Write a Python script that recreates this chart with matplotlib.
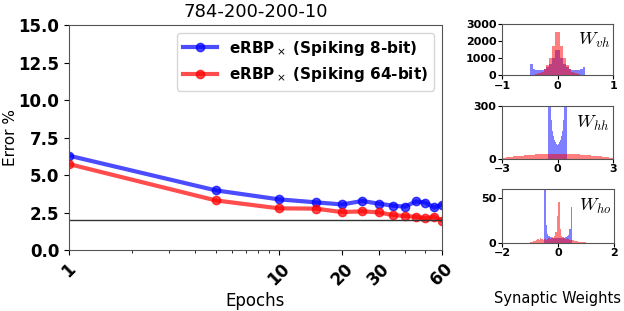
import numpy as np
import matplotlib
matplotlib.use('Agg')
import matplotlib.pyplot as plt
from matplotlib.ticker import ScalarFormatter, NullFormatter

# error curves
epochs = [1, 5, 10, 15, 20, 25, 30, 35, 40, 45, 50, 55, 60]
err_8bit = [6.29, 3.98, 3.38, 3.18, 3.04, 3.27, 3.09, 2.96, 2.89, 3.24, 3.16, 2.84, 3.02]
err_64bit = [5.73, 3.31, 2.78, 2.76, 2.53, 2.58, 2.51, 2.33, 2.27, 2.22, 2.11, 2.22, 1.96]
baseline = 2.0
xticks = [1, 10, 20, 30, 60]

# weight histograms (bin centers / heights)
vh_x = [-0.475, -0.425, -0.375, -0.325, -0.275, -0.225, -0.175, -0.125, -0.075, -0.025,
        0.025, 0.075, 0.125, 0.175, 0.225, 0.275, 0.325, 0.375, 0.425, 0.475]
vh_blue = [650, 330, 300, 300, 320, 360, 450, 650, 1000, 1500,
           1500, 1000, 650, 450, 360, 320, 300, 300, 330, 450]
vh_red = [10, 20, 50, 100, 200, 350, 600, 1000, 1700, 2550,
          2550, 1700, 1000, 600, 350, 200, 100, 50, 20, 10]

hh_blue = [1000, 500, 320, 220, 160, 130, 110, 95, 85, 80,
           80, 85, 95, 110, 130, 160, 220, 320, 500, 1000]
hh_red_x = [-2.9, -2.7, -2.5, -2.3, -2.1, -1.9, -1.7, -1.5, -1.3, -1.1, -0.9, -0.7, -0.5, -0.3, -0.1,
            0.1, 0.3, 0.5, 0.7, 0.9, 1.1, 1.3, 1.5, 1.7, 1.9, 2.1, 2.3, 2.5, 2.7, 2.9]
hh_red = [6, 9, 12, 15, 17, 19, 21, 23, 25, 26, 27, 28, 29, 30, 30,
          30, 30, 29, 28, 27, 26, 25, 23, 21, 19, 17, 15, 12, 9, 6]

ho_blue = [60, 20, 10, 7, 6, 5, 5, 5, 5, 5,
           5, 5, 5, 5, 5, 6, 7, 9, 15, 40]
ho_red_x = [-0.975, -0.925, -0.875, -0.825, -0.775, -0.725, -0.675, -0.625, -0.575, -0.525,
            -0.475, -0.425, -0.375, -0.325, -0.275, -0.225, -0.175, -0.125, -0.075, -0.025,
            0.025, 0.075, 0.125, 0.175, 0.225, 0.275, 0.325, 0.375, 0.425, 0.475,
            0.525, 0.575, 0.625, 0.675, 0.725, 0.775, 0.825, 0.875, 0.925, 0.975]
ho_red = [1, 1, 2, 2, 3, 4, 3, 5, 4, 3,
          4, 3, 4, 5, 4, 6, 5, 8, 12, 30,
          45, 15, 8, 6, 5, 4, 5, 4, 3, 3,
          3, 2, 2, 2, 1, 1, 1, 1, 1, 1]

fig = plt.figure(figsize=(6.24, 3.11), dpi=100)

ax = fig.add_axes([0.1106, 0.196, 0.5977, 0.7236])
ax.plot(epochs, err_8bit, '-o', color='blue', alpha=0.7, lw=3, ms=6,
        label=r'eRBP$_\times$ (Spiking 8-bit)')
ax.plot(epochs, err_64bit, '-o', color='red', alpha=0.7, lw=3, ms=6,
        label=r'eRBP$_\times$ (Spiking 64-bit)')
ax.axhline(baseline, color='#333333', lw=1)
ax.set_xscale('log')
ax.set_xlim(1, 60)
ax.set_ylim(0, 15)
ax.set_xticks(xticks)
ax.xaxis.set_major_formatter(ScalarFormatter())
ax.xaxis.set_minor_formatter(NullFormatter())
ax.set_yticks([0, 2.5, 5, 7.5, 10, 12.5, 15])
ax.set_yticklabels(['0.0', '2.5', '5.0', '7.5', '10.0', '12.5', '15.0'])
for lab in ax.get_xticklabels():
    lab.set_rotation(45)
    lab.set_fontweight('bold')
    lab.set_fontsize(12)
for lab in ax.get_yticklabels():
    lab.set_fontweight('bold')
    lab.set_fontsize(12)
for s in ax.spines.values():
    s.set_color('#555555')
ax.set_title('784-200-200-10', fontsize=13)
ax.set_xlabel('Epochs', fontsize=12, labelpad=2)
ax.set_ylabel('Error %', fontsize=11, va='center')
ax.yaxis.set_label_coords(-0.158, 0.5)
ax.legend(loc='upper right', prop={'weight': 'bold', 'size': 11}, handlelength=2.2)


def hist_panel(rect, xlim, ylim, yticks, xt, bx, bh, bw, rx, rh, rw, name):
    a = fig.add_axes(rect)
    a.bar(bx, bh, width=bw, color='blue', alpha=0.5, lw=0)
    a.bar(rx, rh, width=rw, color='red', alpha=0.5, lw=0)
    a.set_xlim(*xlim)
    a.set_ylim(*ylim)
    a.set_yticks(yticks)
    a.set_xticks(xt)
    for lab in a.get_xticklabels() + a.get_yticklabels():
        lab.set_fontweight('bold')
        lab.set_fontsize(8)
    a.tick_params(pad=1, length=3)
    for s in a.spines.values():
        s.set_color('#555555')
    a.text(0.97, 0.68, name, transform=a.transAxes, ha='right', va='center',
           fontsize=13, math_fontfamily='cm')
    return a


hist_panel([0.8045, 0.759, 0.178, 0.163], (-1, 1), (0, 3000), [0, 1000, 2000, 3000],
           [-1, 0, 1], vh_x, vh_blue, 0.05, vh_x, vh_red, 0.05, r'$W_{vh}$')
hist_panel([0.8045, 0.489, 0.178, 0.170], (-3, 3), (0, 300), [0, 300],
           [-3, 0, 3], vh_x, hh_blue, 0.05, hh_red_x, hh_red, 0.2, r'$W_{hh}$')
hist_panel([0.8045, 0.2196, 0.180, 0.1725], (-2, 2), (0, 60), [0, 50],
           [-2, 0, 2], vh_x, ho_blue, 0.05, ho_red_x, ho_red, 0.05, r'$W_{ho}$')

fig.text(0.893, 0.04, 'Synaptic Weights', ha='center', va='center', fontsize=10.5)

fig.savefig('out.png', dpi=100)
